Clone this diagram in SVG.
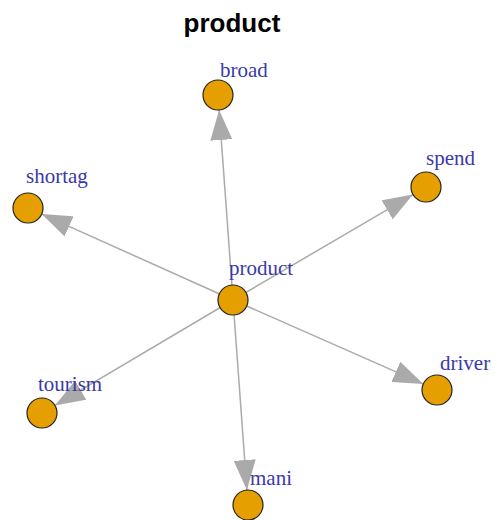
<svg xmlns="http://www.w3.org/2000/svg" width="497" height="520" viewBox="0 0 497 520">
<style>
.title{font-family:"Liberation Sans",Arial,sans-serif;font-weight:bold;font-size:26px;fill:#000}
.edge{stroke:#aaaaaa;stroke-width:1.5;fill:none;marker-end:url(#arr)}
.node{fill:#E69F00;stroke:#222;stroke-width:1.2}
.lbl{font-family:"Liberation Serif","Times New Roman",serif;font-size:21px;fill:#3a3aa8}
</style>
<defs>
<marker id="arr" viewBox="0 0 30 22" refX="30" refY="11" markerWidth="30" markerHeight="22" markerUnits="userSpaceOnUse" orient="auto">
<path d="M0,0 L30,11 L0,22 Z" fill="#aaaaaa"/>
</marker>
</defs>
<rect width="497" height="520" fill="#fff"/>
<text class="title" x="232" y="32" text-anchor="middle">product</text>
<g id="edges">
<line class="edge" x1="233" y1="300" x2="219.1" y2="110"/>
<line class="edge" x1="233" y1="300" x2="41.7" y2="214.1"/>
<line class="edge" x1="233" y1="300" x2="413" y2="194.6"/>
<line class="edge" x1="233" y1="300" x2="54.9" y2="405.4"/>
<line class="edge" x1="233" y1="300" x2="423.3" y2="383.9"/>
<line class="edge" x1="233" y1="300" x2="246.9" y2="490"/>
</g>
<g id="node-product"><circle class="node" cx="233" cy="300" r="15"/><text class="lbl" x="229" y="275">product</text></g>
<g id="node-broad"><circle class="node" cx="218" cy="95" r="15"/><text class="lbl" x="220" y="77">broad</text></g>
<g id="node-shortag"><circle class="node" cx="28" cy="208" r="15"/><text class="lbl" x="26" y="183">shortag</text></g>
<g id="node-spend"><circle class="node" cx="426" cy="187" r="15"/><text class="lbl" x="426" y="165">spend</text></g>
<g id="node-tourism"><circle class="node" cx="42" cy="413" r="15"/><text class="lbl" x="38" y="391">tourism</text></g>
<g id="node-driver"><circle class="node" cx="437" cy="390" r="15"/><text class="lbl" x="440" y="370">driver</text></g>
<g id="node-mani"><circle class="node" cx="248" cy="505" r="15"/><text class="lbl" x="250" y="485">mani</text></g>
</svg>
